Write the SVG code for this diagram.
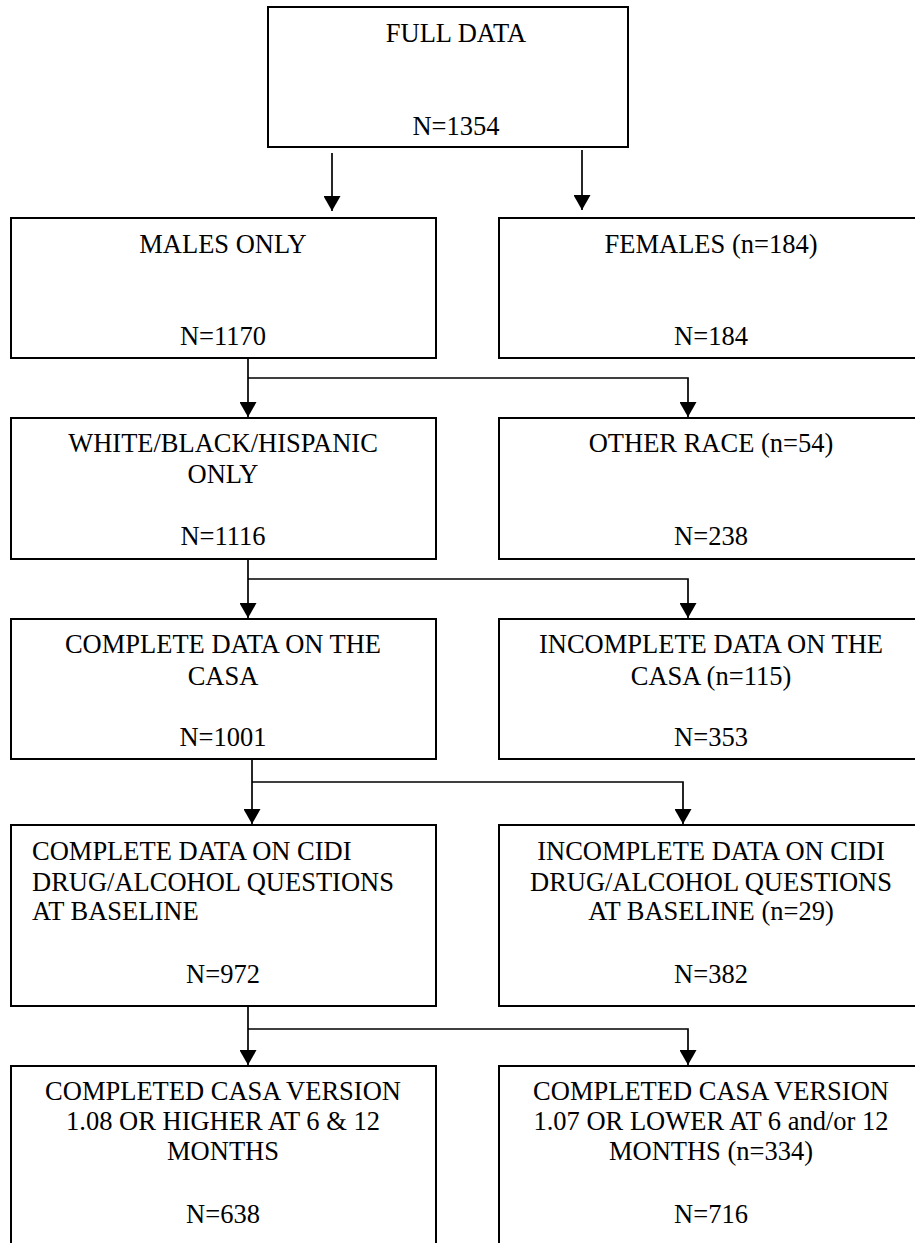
<svg xmlns="http://www.w3.org/2000/svg" width="915" height="1243" viewBox="0 0 915 1243">
<style>
.box{fill:#fff;stroke:#000;stroke-width:2}
text{font-family:"Liberation Serif","Times New Roman",serif;font-size:26.5px;fill:#000;text-anchor:middle}
.l{text-anchor:start}
.c{fill:none;stroke:#000;stroke-width:1.7}
</style>
<defs>
<marker id="ah" markerWidth="16" markerHeight="17" refX="15" refY="8.5" orient="auto" markerUnits="userSpaceOnUse">
<path d="M0,0 L15,8.5 L0,17 Z" fill="#000"/>
</marker>
</defs>
<rect width="915" height="1243" fill="#fff"/>
<g id="connectors">
<path class="c" d="M332,153 V211" marker-end="url(#ah)"/>
<path class="c" d="M582,150 V210" marker-end="url(#ah)"/>
<path class="c" d="M248,358 V417" marker-end="url(#ah)"/>
<path class="c" d="M248,378 H688 V417" marker-end="url(#ah)"/>
<path class="c" d="M248,559 V618" marker-end="url(#ah)"/>
<path class="c" d="M248,579 H688 V618" marker-end="url(#ah)"/>
<path class="c" d="M252,759 V824" marker-end="url(#ah)"/>
<path class="c" d="M252,782 H683 V824" marker-end="url(#ah)"/>
<path class="c" d="M248,1006 V1065" marker-end="url(#ah)"/>
<path class="c" d="M248,1029 H688 V1065" marker-end="url(#ah)"/>
</g>
<g id="full">
<rect class="box" x="268" y="7" width="360" height="140"/>
<text x="456" y="42">FULL DATA</text>
<text x="456" y="135">N=1354</text>
</g>
<g id="males">
<rect class="box" x="11" y="218" width="425" height="140"/>
<text x="223" y="253">MALES ONLY</text>
<text x="223" y="345">N=1170</text>
</g>
<g id="females">
<rect class="box" x="499" y="218" width="430" height="140"/>
<text x="711" y="253">FEMALES (n=184)</text>
<text x="711" y="345">N=184</text>
</g>
<g id="wbh">
<rect class="box" x="11" y="418" width="425" height="141"/>
<text x="223" y="452">WHITE/BLACK/HISPANIC</text>
<text x="223" y="483">ONLY</text>
<text x="223" y="545">N=1116</text>
</g>
<g id="other">
<rect class="box" x="499" y="418" width="430" height="141"/>
<text x="711" y="452">OTHER RACE (n=54)</text>
<text x="711" y="545">N=238</text>
</g>
<g id="casa">
<rect class="box" x="11" y="619" width="425" height="140"/>
<text x="223" y="653">COMPLETE DATA ON THE</text>
<text x="223" y="685">CASA</text>
<text x="223" y="746">N=1001</text>
</g>
<g id="nocasa">
<rect class="box" x="499" y="619" width="430" height="140"/>
<text x="711" y="653">INCOMPLETE DATA ON THE</text>
<text x="711" y="685">CASA (n=115)</text>
<text x="711" y="746">N=353</text>
</g>
<g id="cidi">
<rect class="box" x="11" y="825" width="425" height="181"/>
<text class="l" x="32" y="860">COMPLETE DATA ON CIDI</text>
<text class="l" x="32" y="891">DRUG/ALCOHOL QUESTIONS</text>
<text class="l" x="32" y="920">AT BASELINE</text>
<text x="223" y="983">N=972</text>
</g>
<g id="nocidi">
<rect class="box" x="499" y="825" width="430" height="181"/>
<text x="711" y="860">INCOMPLETE DATA ON CIDI</text>
<text x="711" y="891">DRUG/ALCOHOL QUESTIONS</text>
<text x="711" y="920">AT BASELINE (n=29)</text>
<text x="711" y="983">N=382</text>
</g>
<g id="high">
<rect class="box" x="11" y="1066" width="425" height="200"/>
<text x="223" y="1100">COMPLETED CASA VERSION</text>
<text x="223" y="1130">1.08 OR HIGHER AT 6 &amp; 12</text>
<text x="223" y="1160">MONTHS</text>
<text x="223" y="1223">N=638</text>
</g>
<g id="low">
<rect class="box" x="499" y="1066" width="430" height="200"/>
<text x="711" y="1100">COMPLETED CASA VERSION</text>
<text x="711" y="1130">1.07 OR LOWER AT 6 and/or 12</text>
<text x="711" y="1160">MONTHS (n=334)</text>
<text x="711" y="1223">N=716</text>
</g>
</svg>
